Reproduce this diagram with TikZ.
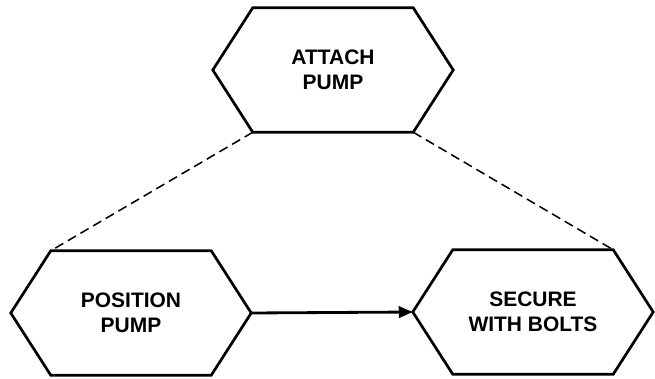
\documentclass[tikz,border=0pt]{standalone}
\usepackage{fontspec}
\setmainfont{Liberation Sans}
\usetikzlibrary{arrows.meta}
\begin{document}
\begin{tikzpicture}[
    every node/.style={font=\fontsize{17.9}{21.3}\selectfont\bfseries},
    step box/.style={rectangle, minimum width=7.2cm, minimum height=3.72cm, align=center, inner sep=0pt},
    outline/.style={line width=2.3pt, line join=miter},
    arrow/.style={-{Triangle[length=0.42cm, width=0.34cm]}, line width=2.4pt},
    link/.style={line width=1.3pt, dash pattern=on 8pt off 4.5pt}
]
    \useasboundingbox (0, 0) rectangle (19.65, -11.37);

% -------------------------
% Steps
% -------------------------
    \node[step box] (attach) at (9.99, -2.1) {ATTACH\\PUMP};
    \node[step box] (position) at (3.93, -9.39) {POSITION\\PUMP};
    \node[step box] (secure) at (15.99, -9.36) {SECURE\\WITH BOLTS};

    % hexagon outline round each step
    \foreach \n in {attach, position, secure}
        \draw[outline] (\n.west) -- ([xshift=1.2cm]\n.north west) -- ([xshift=-1.2cm]\n.north east)
            -- (\n.east) -- ([xshift=-1.2cm]\n.south east) -- ([xshift=1.2cm]\n.south west) -- cycle;

% -------------------------
% Connectors
% -------------------------
    \draw[link] ([xshift=1.2cm]attach.south west) -- ([xshift=1.2cm]position.north west);
    \draw[link] ([xshift=-1.2cm]attach.south east) -- ([xshift=-1.2cm]secure.north east);
    \draw[arrow] (position.east) -- (secure.west);
\end{tikzpicture}
\end{document}
